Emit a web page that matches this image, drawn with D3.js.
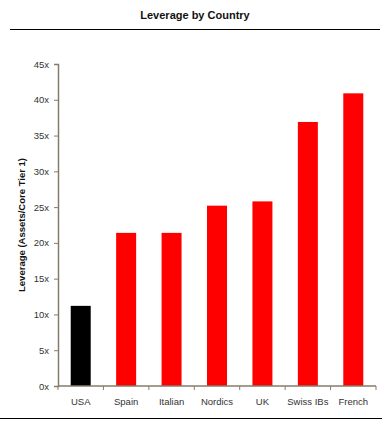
<!DOCTYPE html>
<html><head><meta charset="utf-8">
<script src="https://cdn.jsdelivr.net/npm/d3@7"></script>
<style>body{margin:0;background:#fff}svg{display:block}</style>
</head><body>
<script>
const categories = ["USA","Spain","Italian","Nordics","UK","Swiss IBs","French"];
const values = [11.2, 21.4, 21.4, 25.2, 25.8, 36.9, 40.9];
const barColors = ["#000000","#ff0000","#ff0000","#ff0000","#ff0000","#ff0000","#ff0000"];
const yTicks = [0,5,10,15,20,25,30,35,40,45];

(function(){
const W = 390, H = 423;
const svg = d3.select("body").append("svg").attr("width", W).attr("height", H);
const mLeft = 58, mRight = 376, mTop = 64, mBottom = 386;

svg.append("text").attr("x", 195).attr("y", 19).attr("text-anchor","middle")
  .attr("font-family","Liberation Sans, Arial, sans-serif").attr("font-size", 11)
  .attr("font-weight","bold").attr("fill","#111").text("Leverage by Country");
svg.append("line").attr("x1",10).attr("x2",380).attr("y1",29.5).attr("y2",29.5).attr("stroke","#000").attr("stroke-width",1);
svg.append("line").attr("x1",0).attr("x2",382).attr("y1",418.5).attr("y2",418.5).attr("stroke","#000").attr("stroke-width",1);

const x = d3.scaleBand().domain(categories).range([mLeft, mRight]).paddingInner(0.56).paddingOuter(0.28);
const y = d3.scaleLinear().domain([0,45]).range([mBottom, mTop]);

svg.selectAll("rect.bar").data(categories).join("rect").attr("class","bar")
  .attr("x", d => x(d)).attr("width", x.bandwidth())
  .attr("y", (d,i) => y(values[i])).attr("height", (d,i) => y(0) - y(values[i]))
  .attr("fill", (d,i) => barColors[i]);

const axisColor = "#857b6a";
const fontF = "Liberation Sans, Arial, sans-serif";
const yAxis = svg.append("g").attr("transform", `translate(${mLeft},0)`)
  .call(d3.axisLeft(y).tickValues(yTicks).tickFormat(d => d + "x").tickSize(4).tickPadding(5));
yAxis.select(".domain").attr("stroke", axisColor).attr("stroke-width", 1.5);
yAxis.selectAll(".tick line").attr("stroke", axisColor);
yAxis.selectAll("text").attr("font-family", fontF).attr("font-size", 9.5).attr("fill","#333");

const xAxisG = svg.append("g").attr("transform", `translate(0,${mBottom})`);
xAxisG.append("line").attr("x1", mLeft).attr("x2", mRight).attr("y1",0).attr("y2",0).attr("stroke",axisColor).attr("stroke-width",1.5);
const step = (mRight-mLeft)/categories.length;
d3.range(categories.length+1).forEach(i => {
  xAxisG.append("line").attr("x1", mLeft+i*step).attr("x2", mLeft+i*step).attr("y1",0).attr("y2",4).attr("stroke",axisColor);
});
xAxisG.selectAll("text.cat").data(categories).join("text").attr("class","cat")
  .attr("x", d => x(d) + x.bandwidth()/2).attr("y", 19).attr("text-anchor","middle")
  .attr("font-family", fontF).attr("font-size", 9.5).attr("fill","#333").text(d => d);

svg.append("text").attr("transform", `translate(25,225) rotate(-90)`).attr("text-anchor","middle")
  .attr("font-family", fontF).attr("font-size", 9.5).attr("font-weight","bold").attr("fill","#111")
  .text("Leverage (Assets/Core Tier 1)");
})();
</script>
</body></html>
